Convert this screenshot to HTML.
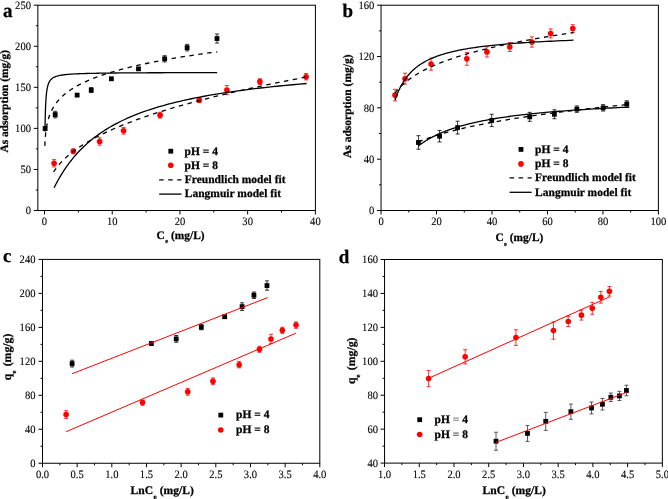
<!DOCTYPE html><html><head><meta charset="utf-8"><style>html,body{margin:0;padding:0;background:#fff;overflow:hidden}svg{display:block;will-change:transform}</style></head><body><svg width="668" height="499" viewBox="0 0 668 499" font-family='"Liberation Serif", serif'>
<rect width="668" height="499" fill="#fff"/>
<rect x="37.85" y="5.20" width="277.55" height="205.30" fill="none" stroke="#000" stroke-width="1"/>
<line x1="44.50" y1="210.50" x2="44.50" y2="214.50" stroke="#000" stroke-width="1"/>
<text transform="translate(44.50,225.30) scale(1,1.07) skewX(0.2)" font-size="10.6" stroke="currentColor" stroke-width="0.1" text-anchor="middle">0</text>
<line x1="112.22" y1="210.50" x2="112.22" y2="214.50" stroke="#000" stroke-width="1"/>
<text transform="translate(112.22,225.30) scale(1,1.07) skewX(0.2)" font-size="10.6" stroke="currentColor" stroke-width="0.1" text-anchor="middle">10</text>
<line x1="179.95" y1="210.50" x2="179.95" y2="214.50" stroke="#000" stroke-width="1"/>
<text transform="translate(179.95,225.30) scale(1,1.07) skewX(0.2)" font-size="10.6" stroke="currentColor" stroke-width="0.1" text-anchor="middle">20</text>
<line x1="247.67" y1="210.50" x2="247.67" y2="214.50" stroke="#000" stroke-width="1"/>
<text transform="translate(247.67,225.30) scale(1,1.07) skewX(0.2)" font-size="10.6" stroke="currentColor" stroke-width="0.1" text-anchor="middle">30</text>
<line x1="315.40" y1="210.50" x2="315.40" y2="214.50" stroke="#000" stroke-width="1"/>
<text transform="translate(315.40,225.30) scale(1,1.07) skewX(0.2)" font-size="10.6" stroke="currentColor" stroke-width="0.1" text-anchor="middle">40</text>
<line x1="78.36" y1="210.50" x2="78.36" y2="212.50" stroke="#000" stroke-width="1"/>
<line x1="146.09" y1="210.50" x2="146.09" y2="212.50" stroke="#000" stroke-width="1"/>
<line x1="213.81" y1="210.50" x2="213.81" y2="212.50" stroke="#000" stroke-width="1"/>
<line x1="281.54" y1="210.50" x2="281.54" y2="212.50" stroke="#000" stroke-width="1"/>
<line x1="33.85" y1="210.50" x2="37.85" y2="210.50" stroke="#000" stroke-width="1"/>
<text transform="translate(31.00,214.20) scale(1,1.07) skewX(0.2)" font-size="10.6" stroke="currentColor" stroke-width="0.1" text-anchor="end">0</text>
<line x1="33.85" y1="169.44" x2="37.85" y2="169.44" stroke="#000" stroke-width="1"/>
<text transform="translate(31.00,173.14) scale(1,1.07) skewX(0.2)" font-size="10.6" stroke="currentColor" stroke-width="0.1" text-anchor="end">50</text>
<line x1="33.85" y1="128.38" x2="37.85" y2="128.38" stroke="#000" stroke-width="1"/>
<text transform="translate(31.00,132.08) scale(1,1.07) skewX(0.2)" font-size="10.6" stroke="currentColor" stroke-width="0.1" text-anchor="end">100</text>
<line x1="33.85" y1="87.32" x2="37.85" y2="87.32" stroke="#000" stroke-width="1"/>
<text transform="translate(31.00,91.02) scale(1,1.07) skewX(0.2)" font-size="10.6" stroke="currentColor" stroke-width="0.1" text-anchor="end">150</text>
<line x1="33.85" y1="46.26" x2="37.85" y2="46.26" stroke="#000" stroke-width="1"/>
<text transform="translate(31.00,49.96) scale(1,1.07) skewX(0.2)" font-size="10.6" stroke="currentColor" stroke-width="0.1" text-anchor="end">200</text>
<line x1="33.85" y1="5.20" x2="37.85" y2="5.20" stroke="#000" stroke-width="1"/>
<text transform="translate(31.00,8.90) scale(1,1.07) skewX(0.2)" font-size="10.6" stroke="currentColor" stroke-width="0.1" text-anchor="end">250</text>
<line x1="35.85" y1="189.97" x2="37.85" y2="189.97" stroke="#000" stroke-width="1"/>
<line x1="35.85" y1="148.91" x2="37.85" y2="148.91" stroke="#000" stroke-width="1"/>
<line x1="35.85" y1="107.85" x2="37.85" y2="107.85" stroke="#000" stroke-width="1"/>
<line x1="35.85" y1="66.79" x2="37.85" y2="66.79" stroke="#000" stroke-width="1"/>
<line x1="35.85" y1="25.73" x2="37.85" y2="25.73" stroke="#000" stroke-width="1"/>
<rect x="381.05" y="5.20" width="277.35" height="205.30" fill="none" stroke="#000" stroke-width="1"/>
<line x1="381.05" y1="210.50" x2="381.05" y2="214.50" stroke="#000" stroke-width="1"/>
<text transform="translate(381.05,225.30) scale(1,1.07) skewX(0.2)" font-size="10.6" stroke="currentColor" stroke-width="0.1" text-anchor="middle">0</text>
<line x1="436.52" y1="210.50" x2="436.52" y2="214.50" stroke="#000" stroke-width="1"/>
<text transform="translate(436.52,225.30) scale(1,1.07) skewX(0.2)" font-size="10.6" stroke="currentColor" stroke-width="0.1" text-anchor="middle">20</text>
<line x1="491.99" y1="210.50" x2="491.99" y2="214.50" stroke="#000" stroke-width="1"/>
<text transform="translate(491.99,225.30) scale(1,1.07) skewX(0.2)" font-size="10.6" stroke="currentColor" stroke-width="0.1" text-anchor="middle">40</text>
<line x1="547.46" y1="210.50" x2="547.46" y2="214.50" stroke="#000" stroke-width="1"/>
<text transform="translate(547.46,225.30) scale(1,1.07) skewX(0.2)" font-size="10.6" stroke="currentColor" stroke-width="0.1" text-anchor="middle">60</text>
<line x1="602.93" y1="210.50" x2="602.93" y2="214.50" stroke="#000" stroke-width="1"/>
<text transform="translate(602.93,225.30) scale(1,1.07) skewX(0.2)" font-size="10.6" stroke="currentColor" stroke-width="0.1" text-anchor="middle">80</text>
<line x1="658.40" y1="210.50" x2="658.40" y2="214.50" stroke="#000" stroke-width="1"/>
<text transform="translate(658.40,225.30) scale(1,1.07) skewX(0.2)" font-size="10.6" stroke="currentColor" stroke-width="0.1" text-anchor="middle">100</text>
<line x1="408.79" y1="210.50" x2="408.79" y2="212.50" stroke="#000" stroke-width="1"/>
<line x1="464.25" y1="210.50" x2="464.25" y2="212.50" stroke="#000" stroke-width="1"/>
<line x1="519.73" y1="210.50" x2="519.73" y2="212.50" stroke="#000" stroke-width="1"/>
<line x1="575.19" y1="210.50" x2="575.19" y2="212.50" stroke="#000" stroke-width="1"/>
<line x1="630.66" y1="210.50" x2="630.66" y2="212.50" stroke="#000" stroke-width="1"/>
<line x1="377.05" y1="210.50" x2="381.05" y2="210.50" stroke="#000" stroke-width="1"/>
<text transform="translate(374.30,214.20) scale(1,1.07) skewX(0.2)" font-size="10.6" stroke="currentColor" stroke-width="0.1" text-anchor="end">0</text>
<line x1="377.05" y1="159.18" x2="381.05" y2="159.18" stroke="#000" stroke-width="1"/>
<text transform="translate(374.30,162.88) scale(1,1.07) skewX(0.2)" font-size="10.6" stroke="currentColor" stroke-width="0.1" text-anchor="end">40</text>
<line x1="377.05" y1="107.85" x2="381.05" y2="107.85" stroke="#000" stroke-width="1"/>
<text transform="translate(374.30,111.55) scale(1,1.07) skewX(0.2)" font-size="10.6" stroke="currentColor" stroke-width="0.1" text-anchor="end">80</text>
<line x1="377.05" y1="56.52" x2="381.05" y2="56.52" stroke="#000" stroke-width="1"/>
<text transform="translate(374.30,60.22) scale(1,1.07) skewX(0.2)" font-size="10.6" stroke="currentColor" stroke-width="0.1" text-anchor="end">120</text>
<line x1="377.05" y1="5.20" x2="381.05" y2="5.20" stroke="#000" stroke-width="1"/>
<text transform="translate(374.30,8.90) scale(1,1.07) skewX(0.2)" font-size="10.6" stroke="currentColor" stroke-width="0.1" text-anchor="end">160</text>
<line x1="379.05" y1="184.84" x2="381.05" y2="184.84" stroke="#000" stroke-width="1"/>
<line x1="379.05" y1="133.51" x2="381.05" y2="133.51" stroke="#000" stroke-width="1"/>
<line x1="379.05" y1="82.19" x2="381.05" y2="82.19" stroke="#000" stroke-width="1"/>
<line x1="379.05" y1="30.86" x2="381.05" y2="30.86" stroke="#000" stroke-width="1"/>
<rect x="42.50" y="259.40" width="277.30" height="203.85" fill="none" stroke="#000" stroke-width="1"/>
<line x1="42.50" y1="463.25" x2="42.50" y2="467.25" stroke="#000" stroke-width="1"/>
<text transform="translate(42.50,478.00) scale(1,1.07) skewX(0.2)" font-size="10.6" stroke="currentColor" stroke-width="0.1" text-anchor="middle">0.0</text>
<line x1="77.16" y1="463.25" x2="77.16" y2="467.25" stroke="#000" stroke-width="1"/>
<text transform="translate(77.16,478.00) scale(1,1.07) skewX(0.2)" font-size="10.6" stroke="currentColor" stroke-width="0.1" text-anchor="middle">0.5</text>
<line x1="111.83" y1="463.25" x2="111.83" y2="467.25" stroke="#000" stroke-width="1"/>
<text transform="translate(111.83,478.00) scale(1,1.07) skewX(0.2)" font-size="10.6" stroke="currentColor" stroke-width="0.1" text-anchor="middle">1.0</text>
<line x1="146.49" y1="463.25" x2="146.49" y2="467.25" stroke="#000" stroke-width="1"/>
<text transform="translate(146.49,478.00) scale(1,1.07) skewX(0.2)" font-size="10.6" stroke="currentColor" stroke-width="0.1" text-anchor="middle">1.5</text>
<line x1="181.15" y1="463.25" x2="181.15" y2="467.25" stroke="#000" stroke-width="1"/>
<text transform="translate(181.15,478.00) scale(1,1.07) skewX(0.2)" font-size="10.6" stroke="currentColor" stroke-width="0.1" text-anchor="middle">2.0</text>
<line x1="215.81" y1="463.25" x2="215.81" y2="467.25" stroke="#000" stroke-width="1"/>
<text transform="translate(215.81,478.00) scale(1,1.07) skewX(0.2)" font-size="10.6" stroke="currentColor" stroke-width="0.1" text-anchor="middle">2.5</text>
<line x1="250.48" y1="463.25" x2="250.48" y2="467.25" stroke="#000" stroke-width="1"/>
<text transform="translate(250.48,478.00) scale(1,1.07) skewX(0.2)" font-size="10.6" stroke="currentColor" stroke-width="0.1" text-anchor="middle">3.0</text>
<line x1="285.14" y1="463.25" x2="285.14" y2="467.25" stroke="#000" stroke-width="1"/>
<text transform="translate(285.14,478.00) scale(1,1.07) skewX(0.2)" font-size="10.6" stroke="currentColor" stroke-width="0.1" text-anchor="middle">3.5</text>
<line x1="319.80" y1="463.25" x2="319.80" y2="467.25" stroke="#000" stroke-width="1"/>
<text transform="translate(319.80,478.00) scale(1,1.07) skewX(0.2)" font-size="10.6" stroke="currentColor" stroke-width="0.1" text-anchor="middle">4.0</text>
<line x1="59.83" y1="463.25" x2="59.83" y2="465.25" stroke="#000" stroke-width="1"/>
<line x1="94.49" y1="463.25" x2="94.49" y2="465.25" stroke="#000" stroke-width="1"/>
<line x1="129.16" y1="463.25" x2="129.16" y2="465.25" stroke="#000" stroke-width="1"/>
<line x1="163.82" y1="463.25" x2="163.82" y2="465.25" stroke="#000" stroke-width="1"/>
<line x1="198.48" y1="463.25" x2="198.48" y2="465.25" stroke="#000" stroke-width="1"/>
<line x1="233.14" y1="463.25" x2="233.14" y2="465.25" stroke="#000" stroke-width="1"/>
<line x1="267.81" y1="463.25" x2="267.81" y2="465.25" stroke="#000" stroke-width="1"/>
<line x1="302.47" y1="463.25" x2="302.47" y2="465.25" stroke="#000" stroke-width="1"/>
<line x1="38.50" y1="463.25" x2="42.50" y2="463.25" stroke="#000" stroke-width="1"/>
<text transform="translate(35.50,466.95) scale(1,1.07) skewX(0.2)" font-size="10.6" stroke="currentColor" stroke-width="0.1" text-anchor="end">0</text>
<line x1="38.50" y1="429.27" x2="42.50" y2="429.27" stroke="#000" stroke-width="1"/>
<text transform="translate(35.50,432.97) scale(1,1.07) skewX(0.2)" font-size="10.6" stroke="currentColor" stroke-width="0.1" text-anchor="end">40</text>
<line x1="38.50" y1="395.30" x2="42.50" y2="395.30" stroke="#000" stroke-width="1"/>
<text transform="translate(35.50,399.00) scale(1,1.07) skewX(0.2)" font-size="10.6" stroke="currentColor" stroke-width="0.1" text-anchor="end">80</text>
<line x1="38.50" y1="361.32" x2="42.50" y2="361.32" stroke="#000" stroke-width="1"/>
<text transform="translate(35.50,365.02) scale(1,1.07) skewX(0.2)" font-size="10.6" stroke="currentColor" stroke-width="0.1" text-anchor="end">120</text>
<line x1="38.50" y1="327.35" x2="42.50" y2="327.35" stroke="#000" stroke-width="1"/>
<text transform="translate(35.50,331.05) scale(1,1.07) skewX(0.2)" font-size="10.6" stroke="currentColor" stroke-width="0.1" text-anchor="end">160</text>
<line x1="38.50" y1="293.38" x2="42.50" y2="293.38" stroke="#000" stroke-width="1"/>
<text transform="translate(35.50,297.07) scale(1,1.07) skewX(0.2)" font-size="10.6" stroke="currentColor" stroke-width="0.1" text-anchor="end">200</text>
<line x1="38.50" y1="259.40" x2="42.50" y2="259.40" stroke="#000" stroke-width="1"/>
<text transform="translate(35.50,263.10) scale(1,1.07) skewX(0.2)" font-size="10.6" stroke="currentColor" stroke-width="0.1" text-anchor="end">240</text>
<line x1="40.50" y1="446.26" x2="42.50" y2="446.26" stroke="#000" stroke-width="1"/>
<line x1="40.50" y1="412.29" x2="42.50" y2="412.29" stroke="#000" stroke-width="1"/>
<line x1="40.50" y1="378.31" x2="42.50" y2="378.31" stroke="#000" stroke-width="1"/>
<line x1="40.50" y1="344.34" x2="42.50" y2="344.34" stroke="#000" stroke-width="1"/>
<line x1="40.50" y1="310.36" x2="42.50" y2="310.36" stroke="#000" stroke-width="1"/>
<line x1="40.50" y1="276.39" x2="42.50" y2="276.39" stroke="#000" stroke-width="1"/>
<rect x="384.55" y="259.50" width="277.80" height="203.60" fill="none" stroke="#000" stroke-width="1"/>
<line x1="384.55" y1="463.10" x2="384.55" y2="467.10" stroke="#000" stroke-width="1"/>
<text transform="translate(384.55,478.00) scale(1,1.07) skewX(0.2)" font-size="10.6" stroke="currentColor" stroke-width="0.1" text-anchor="middle">1.0</text>
<line x1="419.28" y1="463.10" x2="419.28" y2="467.10" stroke="#000" stroke-width="1"/>
<text transform="translate(419.28,478.00) scale(1,1.07) skewX(0.2)" font-size="10.6" stroke="currentColor" stroke-width="0.1" text-anchor="middle">1.5</text>
<line x1="454.00" y1="463.10" x2="454.00" y2="467.10" stroke="#000" stroke-width="1"/>
<text transform="translate(454.00,478.00) scale(1,1.07) skewX(0.2)" font-size="10.6" stroke="currentColor" stroke-width="0.1" text-anchor="middle">2.0</text>
<line x1="488.73" y1="463.10" x2="488.73" y2="467.10" stroke="#000" stroke-width="1"/>
<text transform="translate(488.73,478.00) scale(1,1.07) skewX(0.2)" font-size="10.6" stroke="currentColor" stroke-width="0.1" text-anchor="middle">2.5</text>
<line x1="523.45" y1="463.10" x2="523.45" y2="467.10" stroke="#000" stroke-width="1"/>
<text transform="translate(523.45,478.00) scale(1,1.07) skewX(0.2)" font-size="10.6" stroke="currentColor" stroke-width="0.1" text-anchor="middle">3.0</text>
<line x1="558.17" y1="463.10" x2="558.17" y2="467.10" stroke="#000" stroke-width="1"/>
<text transform="translate(558.17,478.00) scale(1,1.07) skewX(0.2)" font-size="10.6" stroke="currentColor" stroke-width="0.1" text-anchor="middle">3.5</text>
<line x1="592.90" y1="463.10" x2="592.90" y2="467.10" stroke="#000" stroke-width="1"/>
<text transform="translate(592.90,478.00) scale(1,1.07) skewX(0.2)" font-size="10.6" stroke="currentColor" stroke-width="0.1" text-anchor="middle">4.0</text>
<line x1="627.62" y1="463.10" x2="627.62" y2="467.10" stroke="#000" stroke-width="1"/>
<text transform="translate(627.62,478.00) scale(1,1.07) skewX(0.2)" font-size="10.6" stroke="currentColor" stroke-width="0.1" text-anchor="middle">4.5</text>
<line x1="662.35" y1="463.10" x2="662.35" y2="467.10" stroke="#000" stroke-width="1"/>
<text transform="translate(662.35,478.00) scale(1,1.07) skewX(0.2)" font-size="10.6" stroke="currentColor" stroke-width="0.1" text-anchor="middle">5.0</text>
<line x1="401.91" y1="463.10" x2="401.91" y2="465.10" stroke="#000" stroke-width="1"/>
<line x1="436.64" y1="463.10" x2="436.64" y2="465.10" stroke="#000" stroke-width="1"/>
<line x1="471.36" y1="463.10" x2="471.36" y2="465.10" stroke="#000" stroke-width="1"/>
<line x1="506.09" y1="463.10" x2="506.09" y2="465.10" stroke="#000" stroke-width="1"/>
<line x1="540.81" y1="463.10" x2="540.81" y2="465.10" stroke="#000" stroke-width="1"/>
<line x1="575.54" y1="463.10" x2="575.54" y2="465.10" stroke="#000" stroke-width="1"/>
<line x1="610.26" y1="463.10" x2="610.26" y2="465.10" stroke="#000" stroke-width="1"/>
<line x1="644.99" y1="463.10" x2="644.99" y2="465.10" stroke="#000" stroke-width="1"/>
<line x1="380.55" y1="463.10" x2="384.55" y2="463.10" stroke="#000" stroke-width="1"/>
<text transform="translate(378.00,466.80) scale(1,1.07) skewX(0.2)" font-size="10.6" stroke="currentColor" stroke-width="0.1" text-anchor="end">40</text>
<line x1="380.55" y1="429.17" x2="384.55" y2="429.17" stroke="#000" stroke-width="1"/>
<text transform="translate(378.00,432.87) scale(1,1.07) skewX(0.2)" font-size="10.6" stroke="currentColor" stroke-width="0.1" text-anchor="end">60</text>
<line x1="380.55" y1="395.23" x2="384.55" y2="395.23" stroke="#000" stroke-width="1"/>
<text transform="translate(378.00,398.93) scale(1,1.07) skewX(0.2)" font-size="10.6" stroke="currentColor" stroke-width="0.1" text-anchor="end">80</text>
<line x1="380.55" y1="361.30" x2="384.55" y2="361.30" stroke="#000" stroke-width="1"/>
<text transform="translate(378.00,365.00) scale(1,1.07) skewX(0.2)" font-size="10.6" stroke="currentColor" stroke-width="0.1" text-anchor="end">100</text>
<line x1="380.55" y1="327.37" x2="384.55" y2="327.37" stroke="#000" stroke-width="1"/>
<text transform="translate(378.00,331.07) scale(1,1.07) skewX(0.2)" font-size="10.6" stroke="currentColor" stroke-width="0.1" text-anchor="end">120</text>
<line x1="380.55" y1="293.43" x2="384.55" y2="293.43" stroke="#000" stroke-width="1"/>
<text transform="translate(378.00,297.13) scale(1,1.07) skewX(0.2)" font-size="10.6" stroke="currentColor" stroke-width="0.1" text-anchor="end">140</text>
<line x1="380.55" y1="259.50" x2="384.55" y2="259.50" stroke="#000" stroke-width="1"/>
<text transform="translate(378.00,263.20) scale(1,1.07) skewX(0.2)" font-size="10.6" stroke="currentColor" stroke-width="0.1" text-anchor="end">160</text>
<line x1="382.55" y1="446.13" x2="384.55" y2="446.13" stroke="#000" stroke-width="1"/>
<line x1="382.55" y1="412.20" x2="384.55" y2="412.20" stroke="#000" stroke-width="1"/>
<line x1="382.55" y1="378.27" x2="384.55" y2="378.27" stroke="#000" stroke-width="1"/>
<line x1="382.55" y1="344.33" x2="384.55" y2="344.33" stroke="#000" stroke-width="1"/>
<line x1="382.55" y1="310.40" x2="384.55" y2="310.40" stroke="#000" stroke-width="1"/>
<line x1="382.55" y1="276.47" x2="384.55" y2="276.47" stroke="#000" stroke-width="1"/>
<rect x="42.71" y="126.14" width="4.8" height="4.8" fill="#000"/>
<path d="M55.20 111.30V117.87M53.20 111.30h4M53.20 117.87h4" stroke="#000" stroke-width="0.8" fill="none"/>
<rect x="52.80" y="112.18" width="4.8" height="4.8" fill="#000"/>
<rect x="74.74" y="92.72" width="4.8" height="4.8" fill="#000"/>
<path d="M91.23 87.65V92.58M89.23 87.65h4M89.23 92.58h4" stroke="#000" stroke-width="0.8" fill="none"/>
<rect x="88.83" y="87.71" width="4.8" height="4.8" fill="#000"/>
<rect x="109.01" y="76.38" width="4.8" height="4.8" fill="#000"/>
<rect x="136.10" y="66.44" width="4.8" height="4.8" fill="#000"/>
<path d="M164.64 55.70V61.94M162.64 55.70h4M162.64 61.94h4" stroke="#000" stroke-width="0.8" fill="none"/>
<rect x="162.24" y="56.42" width="4.8" height="4.8" fill="#000"/>
<path d="M187.13 44.37V50.94M185.13 44.37h4M185.13 50.94h4" stroke="#000" stroke-width="0.8" fill="none"/>
<rect x="184.73" y="45.26" width="4.8" height="4.8" fill="#000"/>
<path d="M217.00 34.02V43.06M215.00 34.02h4M215.00 43.06h4" stroke="#000" stroke-width="0.8" fill="none"/>
<rect x="214.60" y="36.14" width="4.8" height="4.8" fill="#000"/>
<path d="M54.12 159.59V166.98M52.12 159.59h4M52.12 166.98h4" stroke="#f00" stroke-width="0.8" fill="none"/>
<circle cx="54.12" cy="163.28" r="2.8" fill="#f00"/>
<path d="M73.35 148.83V153.76M71.35 148.83h4M71.35 153.76h4" stroke="#f00" stroke-width="0.8" fill="none"/>
<circle cx="73.35" cy="151.29" r="2.8" fill="#f00"/>
<path d="M99.63 137.74V145.13M97.63 137.74h4M97.63 145.13h4" stroke="#f00" stroke-width="0.8" fill="none"/>
<circle cx="99.63" cy="141.44" r="2.8" fill="#f00"/>
<path d="M123.60 127.56V134.13M121.60 127.56h4M121.60 134.13h4" stroke="#f00" stroke-width="0.8" fill="none"/>
<circle cx="123.60" cy="130.84" r="2.8" fill="#f00"/>
<path d="M160.11 112.28V118.03M158.11 112.28h4M158.11 118.03h4" stroke="#f00" stroke-width="0.8" fill="none"/>
<circle cx="160.11" cy="115.16" r="2.8" fill="#f00"/>
<path d="M199.25 97.67V102.59M197.25 97.67h4M197.25 102.59h4" stroke="#f00" stroke-width="0.8" fill="none"/>
<circle cx="199.25" cy="100.13" r="2.8" fill="#f00"/>
<path d="M226.88 85.51V94.55M224.88 85.51h4M224.88 94.55h4" stroke="#f00" stroke-width="0.8" fill="none"/>
<circle cx="226.88" cy="90.03" r="2.8" fill="#f00"/>
<path d="M259.87 78.78V84.53M257.87 78.78h4M257.87 84.53h4" stroke="#f00" stroke-width="0.8" fill="none"/>
<circle cx="259.87" cy="81.65" r="2.8" fill="#f00"/>
<path d="M306.12 73.52V79.93M304.12 73.52h4M304.12 79.93h4" stroke="#f00" stroke-width="0.8" fill="none"/>
<circle cx="306.12" cy="76.73" r="2.8" fill="#f00"/>
<polyline points="44.97,131.62 45.00,129.96 45.02,128.32 45.05,126.69 45.08,125.07 45.11,123.48 45.14,121.91 45.17,120.36 45.20,118.83 45.24,117.32 45.27,115.84 45.31,114.39 45.36,112.97 45.40,111.57 45.44,110.20 45.49,108.87 45.54,107.56 45.59,106.29 45.65,105.04 45.71,103.83 45.77,102.65 45.83,101.50 45.90,100.39 45.97,99.30 46.04,98.25 46.12,97.23 46.20,96.24 46.29,95.29 46.38,94.36 46.47,93.47 46.57,92.60 46.68,91.76 46.79,90.96 46.90,90.18 47.02,89.43 47.15,88.70 47.28,88.01 47.42,87.33 47.57,86.69 47.72,86.07 47.89,85.47 48.06,84.90 48.24,84.35 48.42,83.82 48.62,83.31 48.83,82.82 49.05,82.35 49.28,81.91 49.52,81.48 49.77,81.06 50.03,80.67 50.31,80.29 50.61,79.93 50.91,79.58 51.24,79.25 51.58,78.94 51.93,78.63 52.31,78.34 52.70,78.06 53.11,77.80 53.55,77.55 54.00,77.30 54.48,77.07 54.99,76.85 55.51,76.64 56.07,76.44 56.65,76.25 57.26,76.06 57.91,75.89 58.58,75.72 59.29,75.56 60.04,75.41 60.82,75.26 61.64,75.12 62.51,74.99 63.41,74.86 64.37,74.74 65.37,74.63 66.42,74.52 67.52,74.42 68.68,74.32 69.90,74.22 71.18,74.13 72.52,74.04 73.93,73.96 75.42,73.88 76.97,73.81 78.61,73.74 80.33,73.67 82.13,73.61 84.03,73.54 86.02,73.48 88.11,73.43 90.31,73.38 92.62,73.32 95.04,73.28 97.59,73.23 100.26,73.19 103.07,73.14 106.02,73.10 109.12,73.07 112.38,73.03 115.80,73.00 119.39,72.96 123.16,72.93 127.12,72.90 131.29,72.87 135.66,72.85 140.25,72.82 145.08,72.80 150.14,72.77 155.46,72.75 161.05,72.73 166.93,72.71 173.09,72.69 179.57,72.67 186.38,72.65 193.52,72.64 201.03,72.62 208.92,72.61 217.20,72.59" fill="none" stroke="#000" stroke-width="1.3"/>
<polyline points="44.85,145.85 44.87,145.37 44.89,144.88 44.91,144.38 44.93,143.89 44.96,143.39 44.98,142.88 45.01,142.37 45.03,141.86 45.06,141.35 45.09,140.83 45.12,140.30 45.15,139.78 45.19,139.25 45.23,138.71 45.26,138.17 45.30,137.63 45.35,137.08 45.39,136.53 45.44,135.97 45.49,135.41 45.54,134.85 45.60,134.28 45.65,133.71 45.72,133.13 45.78,132.55 45.85,131.96 45.92,131.37 45.99,130.78 46.07,130.18 46.16,129.58 46.25,128.97 46.34,128.36 46.43,127.74 46.54,127.12 46.65,126.49 46.76,125.86 46.88,125.23 47.00,124.58 47.14,123.94 47.28,123.29 47.42,122.63 47.58,121.97 47.74,121.31 47.91,120.64 48.10,119.96 48.29,119.28 48.49,118.60 48.70,117.91 48.92,117.21 49.15,116.51 49.40,115.81 49.66,115.09 49.93,114.38 50.22,113.66 50.52,112.93 50.84,112.19 51.18,111.46 51.53,110.71 51.91,109.96 52.30,109.21 52.71,108.45 53.15,107.68 53.61,106.91 54.09,106.13 54.60,105.34 55.13,104.55 55.69,103.76 56.29,102.96 56.91,102.15 57.57,101.34 58.26,100.52 58.99,99.69 59.76,98.86 60.57,98.02 61.42,97.17 62.31,96.32 63.26,95.46 64.25,94.60 65.30,93.73 66.40,92.85 67.56,91.97 68.78,91.08 70.07,90.18 71.42,89.28 72.85,88.37 74.35,87.45 75.93,86.52 77.60,85.59 79.35,84.65 81.20,83.71 83.14,82.76 85.19,81.80 87.35,80.83 89.62,79.86 92.01,78.87 94.52,77.89 97.17,76.89 99.97,75.89 102.90,74.87 106.00,73.85 109.26,72.83 112.69,71.79 116.30,70.75 120.11,69.70 124.11,68.64 128.33,67.58 132.77,66.51 137.45,65.42 142.37,64.33 147.56,63.24 153.02,62.13 158.77,61.01 164.82,59.89 171.20,58.76 177.91,57.62 184.98,56.47 192.42,55.31 200.26,54.15 208.51,52.97 217.20,51.79" fill="none" stroke="#000" stroke-width="1.3" stroke-dasharray="4.5 4.5"/>
<polyline points="54.12,187.71 54.39,187.17 54.66,186.62 54.95,186.06 55.24,185.49 55.54,184.91 55.85,184.31 56.16,183.71 56.49,183.10 56.82,182.47 57.17,181.83 57.52,181.19 57.88,180.53 58.26,179.86 58.64,179.17 59.04,178.48 59.44,177.78 59.86,177.06 60.29,176.34 60.73,175.60 61.18,174.85 61.65,174.09 62.13,173.32 62.62,172.54 63.13,171.74 63.65,170.94 64.18,170.13 64.73,169.30 65.30,168.46 65.88,167.62 66.47,166.76 67.09,165.89 67.72,165.02 68.37,164.13 69.03,163.23 69.72,162.32 70.42,161.41 71.15,160.48 71.89,159.55 72.65,158.61 73.44,157.66 74.25,156.70 75.08,155.73 75.93,154.75 76.81,153.77 77.71,152.78 78.64,151.78 79.59,150.78 80.58,149.77 81.58,148.76 82.62,147.74 83.68,146.71 84.78,145.68 85.90,144.64 87.06,143.61 88.25,142.56 89.47,141.52 90.72,140.47 92.01,139.41 93.34,138.36 94.71,137.30 96.11,136.25 97.55,135.19 99.03,134.13 100.55,133.07 102.12,132.01 103.73,130.95 105.38,129.90 107.08,128.84 108.83,127.79 110.63,126.73 112.47,125.69 114.37,124.64 116.32,123.60 118.33,122.56 120.39,121.52 122.51,120.49 124.69,119.47 126.93,118.44 129.23,117.43 131.59,116.42 134.03,115.42 136.53,114.42 139.10,113.43 141.74,112.45 144.45,111.47 147.24,110.50 150.11,109.55 153.06,108.59 156.09,107.65 159.21,106.72 162.41,105.79 165.71,104.88 169.09,103.97 172.57,103.07 176.15,102.18 179.82,101.31 183.60,100.44 187.49,99.58 191.48,98.74 195.59,97.90 199.80,97.07 204.14,96.26 208.60,95.45 213.18,94.66 217.89,93.88 222.74,93.11 227.71,92.35 232.83,91.60 238.09,90.86 243.49,90.14 249.05,89.42 254.76,88.72 260.64,88.02 266.67,87.34 272.88,86.67 279.25,86.01 285.81,85.36 292.55,84.73 299.48,84.10 306.60,83.49" fill="none" stroke="#000" stroke-width="1.3"/>
<polyline points="53.58,171.97 53.83,171.57 54.10,171.16 54.37,170.76 54.65,170.34 54.94,169.92 55.24,169.50 55.54,169.07 55.86,168.64 56.18,168.21 56.51,167.77 56.85,167.32 57.20,166.87 57.56,166.42 57.94,165.96 58.32,165.50 58.71,165.03 59.11,164.55 59.53,164.08 59.96,163.59 60.40,163.10 60.85,162.61 61.31,162.11 61.79,161.61 62.28,161.10 62.79,160.58 63.31,160.06 63.84,159.54 64.39,159.01 64.96,158.47 65.54,157.93 66.14,157.38 66.75,156.83 67.38,156.27 68.03,155.71 68.70,155.14 69.39,154.56 70.10,153.98 70.83,153.39 71.57,152.80 72.34,152.19 73.13,151.59 73.95,150.97 74.79,150.35 75.65,149.73 76.53,149.10 77.44,148.46 78.38,147.81 79.34,147.16 80.33,146.50 81.35,145.83 82.40,145.16 83.47,144.48 84.58,143.79 85.72,143.10 86.89,142.40 88.10,141.69 89.34,140.97 90.61,140.25 91.92,139.51 93.27,138.78 94.66,138.03 96.08,137.27 97.55,136.51 99.06,135.74 100.61,134.96 102.20,134.18 103.84,133.38 105.53,132.58 107.26,131.77 109.05,130.95 110.88,130.12 112.77,129.28 114.71,128.44 116.70,127.58 118.76,126.72 120.87,125.85 123.04,124.97 125.27,124.08 127.57,123.18 129.93,122.27 132.35,121.35 134.85,120.42 137.42,119.48 140.06,118.54 142.78,117.58 145.57,116.61 148.44,115.63 151.40,114.65 154.44,113.65 157.56,112.64 160.77,111.62 164.08,110.59 167.48,109.55 170.97,108.50 174.57,107.44 178.26,106.36 182.07,105.28 185.98,104.18 190.00,103.08 194.13,101.96 198.39,100.83 202.76,99.69 207.26,98.53 211.88,97.37 216.64,96.19 221.53,95.00 226.57,93.80 231.74,92.58 237.06,91.36 242.54,90.12 248.16,88.86 253.95,87.60 259.91,86.32 266.03,85.02 272.33,83.72 278.80,82.40 285.46,81.06 292.31,79.72 299.35,78.35 306.60,76.98" fill="none" stroke="#000" stroke-width="1.3" stroke-dasharray="4.5 4.5"/>
<path d="M418.44 135.69V149.29M416.44 135.69h4M416.44 149.29h4" stroke="#000" stroke-width="0.8" fill="none"/>
<rect x="416.04" y="140.09" width="4.8" height="4.8" fill="#000"/>
<path d="M439.57 130.43V141.98M437.57 130.43h4M437.57 141.98h4" stroke="#000" stroke-width="0.8" fill="none"/>
<rect x="437.17" y="133.81" width="4.8" height="4.8" fill="#000"/>
<path d="M457.60 121.19V134.03M455.60 121.19h4M455.60 134.03h4" stroke="#000" stroke-width="0.8" fill="none"/>
<rect x="455.20" y="125.21" width="4.8" height="4.8" fill="#000"/>
<path d="M491.71 114.27V126.58M489.71 114.27h4M489.71 126.58h4" stroke="#000" stroke-width="0.8" fill="none"/>
<rect x="489.31" y="118.02" width="4.8" height="4.8" fill="#000"/>
<path d="M529.71 112.34V121.32M527.71 112.34h4M527.71 121.32h4" stroke="#000" stroke-width="0.8" fill="none"/>
<rect x="527.31" y="114.43" width="4.8" height="4.8" fill="#000"/>
<path d="M554.39 109.77V118.76M552.39 109.77h4M552.39 118.76h4" stroke="#000" stroke-width="0.8" fill="none"/>
<rect x="551.99" y="111.87" width="4.8" height="4.8" fill="#000"/>
<path d="M576.86 105.93V112.34M574.86 105.93h4M574.86 112.34h4" stroke="#000" stroke-width="0.8" fill="none"/>
<rect x="574.46" y="106.73" width="4.8" height="4.8" fill="#000"/>
<path d="M603.12 104.64V111.06M601.12 104.64h4M601.12 111.06h4" stroke="#000" stroke-width="0.8" fill="none"/>
<rect x="600.72" y="105.45" width="4.8" height="4.8" fill="#000"/>
<path d="M626.78 100.79V107.21M624.78 100.79h4M624.78 107.21h4" stroke="#000" stroke-width="0.8" fill="none"/>
<rect x="624.38" y="101.60" width="4.8" height="4.8" fill="#000"/>
<path d="M395.06 89.37V100.92M393.06 89.37h4M393.06 100.92h4" stroke="#f00" stroke-width="0.8" fill="none"/>
<circle cx="395.06" cy="95.15" r="2.8" fill="#f00"/>
<path d="M405.04 73.21V84.24M403.04 73.21h4M403.04 84.24h4" stroke="#f00" stroke-width="0.8" fill="none"/>
<circle cx="405.04" cy="78.72" r="2.8" fill="#f00"/>
<path d="M431.06 58.06V70.13M429.06 58.06h4M429.06 70.13h4" stroke="#f00" stroke-width="0.8" fill="none"/>
<circle cx="431.06" cy="64.10" r="2.8" fill="#f00"/>
<path d="M466.83 52.42V65.25M464.83 52.42h4M464.83 65.25h4" stroke="#f00" stroke-width="0.8" fill="none"/>
<circle cx="466.83" cy="58.83" r="2.8" fill="#f00"/>
<path d="M486.94 46.77V57.04M484.94 46.77h4M484.94 57.04h4" stroke="#f00" stroke-width="0.8" fill="none"/>
<circle cx="486.94" cy="51.91" r="2.8" fill="#f00"/>
<path d="M509.82 42.54V51.52M507.82 42.54h4M507.82 51.52h4" stroke="#f00" stroke-width="0.8" fill="none"/>
<circle cx="509.82" cy="47.03" r="2.8" fill="#f00"/>
<path d="M531.93 36.89V47.16M529.93 36.89h4M529.93 47.16h4" stroke="#f00" stroke-width="0.8" fill="none"/>
<circle cx="531.93" cy="42.03" r="2.8" fill="#f00"/>
<path d="M550.70 28.94V37.92M548.70 28.94h4M548.70 37.92h4" stroke="#f00" stroke-width="0.8" fill="none"/>
<circle cx="550.70" cy="33.43" r="2.8" fill="#f00"/>
<path d="M572.81 24.70V32.40M570.81 24.70h4M570.81 32.40h4" stroke="#f00" stroke-width="0.8" fill="none"/>
<circle cx="572.81" cy="28.55" r="2.8" fill="#f00"/>
<polyline points="418.44,145.86 419.03,145.41 419.64,144.96 420.25,144.51 420.87,144.06 421.51,143.62 422.15,143.17 422.80,142.73 423.47,142.29 424.14,141.85 424.83,141.41 425.52,140.97 426.23,140.53 426.95,140.10 427.68,139.66 428.42,139.23 429.17,138.80 429.94,138.37 430.71,137.94 431.50,137.52 432.31,137.09 433.12,136.67 433.95,136.25 434.79,135.83 435.64,135.42 436.51,135.00 437.39,134.59 438.29,134.18 439.20,133.77 440.12,133.36 441.06,132.96 442.02,132.56 442.99,132.16 443.97,131.76 444.97,131.36 445.99,130.97 447.02,130.58 448.07,130.19 449.14,129.80 450.22,129.42 451.32,129.04 452.44,128.66 453.57,128.28 454.72,127.91 455.90,127.54 457.09,127.17 458.29,126.80 459.52,126.44 460.77,126.08 462.04,125.72 463.33,125.36 464.63,125.01 465.96,124.66 467.31,124.31 468.69,123.96 470.08,123.62 471.49,123.28 472.93,122.94 474.39,122.61 475.88,122.28 477.39,121.95 478.92,121.62 480.47,121.30 482.05,120.98 483.66,120.66 485.29,120.35 486.95,120.03 488.63,119.72 490.34,119.42 492.08,119.11 493.85,118.81 495.64,118.51 497.46,118.22 499.31,117.92 501.19,117.63 503.10,117.35 505.04,117.06 507.02,116.78 509.02,116.50 511.05,116.22 513.12,115.95 515.22,115.68 517.35,115.41 519.52,115.14 521.72,114.88 523.96,114.62 526.23,114.36 528.54,114.11 530.89,113.86 533.27,113.61 535.69,113.36 538.15,113.11 540.65,112.87 543.18,112.63 545.76,112.40 548.38,112.16 551.04,111.93 553.74,111.70 556.49,111.48 559.28,111.25 562.11,111.03 564.99,110.81 567.92,110.60 570.89,110.38 573.91,110.17 576.97,109.96 580.09,109.76 583.25,109.55 586.47,109.35 589.73,109.15 593.05,108.95 596.42,108.76 599.85,108.57 603.33,108.38 606.86,108.19 610.45,108.00 614.10,107.82 617.80,107.64 621.57,107.46 625.39,107.28 629.28,107.11" fill="none" stroke="#000" stroke-width="1.3"/>
<polyline points="418.44,141.93 419.03,141.68 419.64,141.43 420.25,141.18 420.87,140.93 421.51,140.68 422.15,140.42 422.80,140.17 423.47,139.91 424.14,139.65 424.83,139.39 425.52,139.13 426.23,138.87 426.95,138.61 427.68,138.35 428.42,138.09 429.17,137.82 429.94,137.56 430.71,137.29 431.50,137.03 432.31,136.76 433.12,136.49 433.95,136.22 434.79,135.95 435.64,135.68 436.51,135.41 437.39,135.13 438.29,134.86 439.20,134.58 440.12,134.30 441.06,134.03 442.02,133.75 442.99,133.47 443.97,133.19 444.97,132.91 445.99,132.62 447.02,132.34 448.07,132.05 449.14,131.77 450.22,131.48 451.32,131.19 452.44,130.90 453.57,130.61 454.72,130.32 455.90,130.03 457.09,129.74 458.29,129.44 459.52,129.15 460.77,128.85 462.04,128.55 463.33,128.25 464.63,127.96 465.96,127.65 467.31,127.35 468.69,127.05 470.08,126.75 471.49,126.44 472.93,126.13 474.39,125.83 475.88,125.52 477.39,125.21 478.92,124.90 480.47,124.58 482.05,124.27 483.66,123.96 485.29,123.64 486.95,123.33 488.63,123.01 490.34,122.69 492.08,122.37 493.85,122.05 495.64,121.73 497.46,121.40 499.31,121.08 501.19,120.75 503.10,120.42 505.04,120.10 507.02,119.77 509.02,119.44 511.05,119.10 513.12,118.77 515.22,118.44 517.35,118.10 519.52,117.76 521.72,117.43 523.96,117.09 526.23,116.75 528.54,116.40 530.89,116.06 533.27,115.72 535.69,115.37 538.15,115.02 540.65,114.68 543.18,114.33 545.76,113.98 548.38,113.63 551.04,113.27 553.74,112.92 556.49,112.56 559.28,112.21 562.11,111.85 564.99,111.49 567.92,111.13 570.89,110.76 573.91,110.40 576.97,110.04 580.09,109.67 583.25,109.30 586.47,108.93 589.73,108.56 593.05,108.19 596.42,107.82 599.85,107.44 603.33,107.07 606.86,106.69 610.45,106.31 614.10,105.93 617.80,105.55 621.57,105.17 625.39,104.79 629.28,104.40" fill="none" stroke="#000" stroke-width="1.3" stroke-dasharray="4.5 4.5"/>
<polyline points="395.06,100.07 395.37,99.16 395.68,98.25 396.00,97.35 396.33,96.46 396.67,95.57 397.02,94.68 397.37,93.80 397.73,92.93 398.10,92.06 398.47,91.20 398.86,90.35 399.25,89.50 399.65,88.66 400.06,87.82 400.48,87.00 400.91,86.17 401.35,85.36 401.80,84.56 402.26,83.76 402.73,82.96 403.21,82.18 403.69,81.40 404.19,80.64 404.71,79.87 405.23,79.12 405.76,78.38 406.31,77.64 406.86,76.91 407.43,76.19 408.02,75.47 408.61,74.77 409.22,74.07 409.84,73.38 410.48,72.70 411.13,72.02 411.79,71.36 412.47,70.70 413.16,70.05 413.87,69.41 414.60,68.78 415.34,68.15 416.10,67.54 416.87,66.93 417.66,66.33 418.47,65.74 419.30,65.15 420.14,64.58 421.00,64.01 421.88,63.45 422.79,62.90 423.71,62.35 424.65,61.82 425.61,61.29 426.60,60.77 427.60,60.26 428.63,59.75 429.68,59.25 430.75,58.76 431.85,58.28 432.97,57.80 434.12,57.34 435.29,56.88 436.49,56.42 437.71,55.98 438.96,55.54 440.24,55.11 441.55,54.68 442.88,54.26 444.25,53.85 445.64,53.45 447.07,53.05 448.53,52.66 450.02,52.28 451.54,51.90 453.10,51.53 454.69,51.16 456.31,50.80 457.97,50.45 459.67,50.10 461.41,49.76 463.18,49.43 465.00,49.10 466.85,48.78 468.74,48.46 470.68,48.15 472.66,47.84 474.68,47.54 476.75,47.25 478.86,46.96 481.02,46.67 483.23,46.39 485.48,46.12 487.79,45.85 490.15,45.58 492.55,45.32 495.02,45.07 497.53,44.82 500.10,44.58 502.73,44.34 505.42,44.10 508.16,43.87 510.97,43.64 513.84,43.42 516.77,43.20 519.77,42.98 522.83,42.77 525.96,42.57 529.16,42.37 532.43,42.17 535.77,41.97 539.19,41.78 542.68,41.59 546.25,41.41 549.89,41.23 553.62,41.05 557.43,40.88 561.33,40.71 565.31,40.55 569.37,40.38 573.53,40.22" fill="none" stroke="#000" stroke-width="1.3"/>
<polyline points="395.06,93.08 395.37,92.67 395.68,92.26 396.00,91.85 396.33,91.44 396.67,91.03 397.02,90.62 397.37,90.20 397.73,89.78 398.10,89.36 398.47,88.94 398.86,88.52 399.25,88.10 399.65,87.67 400.06,87.25 400.48,86.82 400.91,86.39 401.35,85.96 401.80,85.53 402.26,85.10 402.73,84.66 403.21,84.23 403.69,83.79 404.19,83.35 404.71,82.91 405.23,82.46 405.76,82.02 406.31,81.57 406.86,81.13 407.43,80.68 408.02,80.23 408.61,79.78 409.22,79.32 409.84,78.87 410.48,78.41 411.13,77.95 411.79,77.49 412.47,77.03 413.16,76.57 413.87,76.11 414.60,75.64 415.34,75.17 416.10,74.70 416.87,74.23 417.66,73.76 418.47,73.28 419.30,72.81 420.14,72.33 421.00,71.85 421.88,71.37 422.79,70.89 423.71,70.40 424.65,69.92 425.61,69.43 426.60,68.94 427.60,68.45 428.63,67.96 429.68,67.46 430.75,66.97 431.85,66.47 432.97,65.97 434.12,65.47 435.29,64.97 436.49,64.46 437.71,63.96 438.96,63.45 440.24,62.94 441.55,62.43 442.88,61.91 444.25,61.40 445.64,60.88 447.07,60.36 448.53,59.84 450.02,59.32 451.54,58.79 453.10,58.27 454.69,57.74 456.31,57.21 457.97,56.68 459.67,56.14 461.41,55.61 463.18,55.07 465.00,54.53 466.85,53.99 468.74,53.45 470.68,52.90 472.66,52.36 474.68,51.81 476.75,51.26 478.86,50.71 481.02,50.15 483.23,49.60 485.48,49.04 487.79,48.48 490.15,47.92 492.55,47.35 495.02,46.79 497.53,46.22 500.10,45.65 502.73,45.08 505.42,44.50 508.16,43.93 510.97,43.35 513.84,42.77 516.77,42.19 519.77,41.61 522.83,41.02 525.96,40.43 529.16,39.84 532.43,39.25 535.77,38.66 539.19,38.06 542.68,37.46 546.25,36.86 549.89,36.26 553.62,35.66 557.43,35.05 561.33,34.44 565.31,33.83 569.37,33.22 573.53,32.60" fill="none" stroke="#000" stroke-width="1.3" stroke-dasharray="4.5 4.5"/>
<path d="M72.10 360.22V367.02M70.10 360.22h4M70.10 367.02h4" stroke="#000" stroke-width="0.8" fill="none"/>
<rect x="69.70" y="361.22" width="4.8" height="4.8" fill="#000"/>
<path d="M151.34 341.87V345.27M149.34 341.87h4M149.34 345.27h4" stroke="#000" stroke-width="0.8" fill="none"/>
<rect x="148.94" y="341.17" width="4.8" height="4.8" fill="#000"/>
<path d="M176.23 335.50V342.30M174.23 335.50h4M174.23 342.30h4" stroke="#000" stroke-width="0.8" fill="none"/>
<rect x="173.83" y="336.50" width="4.8" height="4.8" fill="#000"/>
<path d="M201.32 324.63V329.73M199.32 324.63h4M199.32 329.73h4" stroke="#000" stroke-width="0.8" fill="none"/>
<rect x="198.92" y="324.78" width="4.8" height="4.8" fill="#000"/>
<path d="M224.69 315.03V318.43M222.69 315.03h4M222.69 318.43h4" stroke="#000" stroke-width="0.8" fill="none"/>
<rect x="222.29" y="314.33" width="4.8" height="4.8" fill="#000"/>
<path d="M242.09 302.80V310.45M240.09 302.80h4M240.09 310.45h4" stroke="#000" stroke-width="0.8" fill="none"/>
<rect x="239.69" y="304.23" width="4.8" height="4.8" fill="#000"/>
<path d="M253.94 292.02V298.47M251.94 292.02h4M251.94 298.47h4" stroke="#000" stroke-width="0.8" fill="none"/>
<rect x="251.54" y="292.84" width="4.8" height="4.8" fill="#000"/>
<path d="M266.97 280.89V290.23M264.97 280.89h4M264.97 290.23h4" stroke="#000" stroke-width="0.8" fill="none"/>
<rect x="264.57" y="283.16" width="4.8" height="4.8" fill="#000"/>
<path d="M66.14 410.76V418.40M64.14 410.76h4M64.14 418.40h4" stroke="#f00" stroke-width="0.8" fill="none"/>
<circle cx="66.14" cy="414.58" r="2.8" fill="#f00"/>
<path d="M142.54 400.06V405.15M140.54 400.06h4M140.54 405.15h4" stroke="#f00" stroke-width="0.8" fill="none"/>
<circle cx="142.54" cy="402.60" r="2.8" fill="#f00"/>
<path d="M187.74 388.42V395.22M185.74 388.42h4M185.74 395.22h4" stroke="#f00" stroke-width="0.8" fill="none"/>
<circle cx="187.74" cy="391.82" r="2.8" fill="#f00"/>
<path d="M212.97 377.89V384.68M210.97 377.89h4M210.97 384.68h4" stroke="#f00" stroke-width="0.8" fill="none"/>
<circle cx="212.97" cy="381.29" r="2.8" fill="#f00"/>
<path d="M239.18 361.58V367.87M237.18 361.58h4M237.18 367.87h4" stroke="#f00" stroke-width="0.8" fill="none"/>
<circle cx="239.18" cy="364.72" r="2.8" fill="#f00"/>
<path d="M259.49 346.21V352.32M257.49 346.21h4M257.49 352.32h4" stroke="#f00" stroke-width="0.8" fill="none"/>
<circle cx="259.49" cy="349.26" r="2.8" fill="#f00"/>
<path d="M271.00 334.31V343.66M269.00 334.31h4M269.00 343.66h4" stroke="#f00" stroke-width="0.8" fill="none"/>
<circle cx="271.00" cy="338.99" r="2.8" fill="#f00"/>
<path d="M282.36 327.27V333.38M280.36 327.27h4M280.36 333.38h4" stroke="#f00" stroke-width="0.8" fill="none"/>
<circle cx="282.36" cy="330.32" r="2.8" fill="#f00"/>
<path d="M296.02 321.83V328.28M294.02 321.83h4M294.02 328.28h4" stroke="#f00" stroke-width="0.8" fill="none"/>
<circle cx="296.02" cy="325.06" r="2.8" fill="#f00"/>
<line x1="72.10" y1="373.73" x2="267.60" y2="297.62" stroke="#f00" stroke-width="1"/>
<line x1="66.14" y1="431.74" x2="296.02" y2="333.13" stroke="#f00" stroke-width="1"/>
<path d="M496.02 432.22V450.21M494.02 432.22h4M494.02 450.21h4" stroke="#333" stroke-width="0.8" fill="none"/>
<rect x="493.62" y="438.81" width="4.8" height="4.8" fill="#000"/>
<path d="M527.48 425.43V441.38M525.48 425.43h4M525.48 441.38h4" stroke="#333" stroke-width="0.8" fill="none"/>
<rect x="525.08" y="431.01" width="4.8" height="4.8" fill="#000"/>
<path d="M545.74 412.37V430.35M543.74 412.37h4M543.74 430.35h4" stroke="#333" stroke-width="0.8" fill="none"/>
<rect x="543.34" y="418.96" width="4.8" height="4.8" fill="#000"/>
<path d="M570.88 404.06V419.33M568.88 404.06h4M568.88 419.33h4" stroke="#333" stroke-width="0.8" fill="none"/>
<rect x="568.48" y="409.29" width="4.8" height="4.8" fill="#000"/>
<path d="M591.51 402.02V413.90M589.51 402.02h4M589.51 413.90h4" stroke="#333" stroke-width="0.8" fill="none"/>
<rect x="589.11" y="405.56" width="4.8" height="4.8" fill="#000"/>
<path d="M602.41 398.46V409.99M600.41 398.46h4M600.41 409.99h4" stroke="#333" stroke-width="0.8" fill="none"/>
<rect x="600.01" y="401.83" width="4.8" height="4.8" fill="#000"/>
<path d="M610.82 393.03V401.51M608.82 393.03h4M608.82 401.51h4" stroke="#333" stroke-width="0.8" fill="none"/>
<rect x="608.42" y="394.87" width="4.8" height="4.8" fill="#000"/>
<path d="M619.43 391.33V400.49M617.43 391.33h4M617.43 400.49h4" stroke="#333" stroke-width="0.8" fill="none"/>
<rect x="617.03" y="393.51" width="4.8" height="4.8" fill="#000"/>
<path d="M626.44 385.22V395.74M624.44 385.22h4M624.44 395.74h4" stroke="#333" stroke-width="0.8" fill="none"/>
<rect x="624.04" y="388.08" width="4.8" height="4.8" fill="#000"/>
<path d="M428.65 370.46V386.75M426.65 370.46h4M426.65 386.75h4" stroke="#f00" stroke-width="0.8" fill="none"/>
<circle cx="428.65" cy="378.61" r="2.8" fill="#f00"/>
<path d="M465.18 349.68V363.93M463.18 349.68h4M463.18 363.93h4" stroke="#f00" stroke-width="0.8" fill="none"/>
<circle cx="465.18" cy="356.80" r="2.8" fill="#f00"/>
<path d="M515.95 329.74V345.35M513.95 329.74h4M513.95 345.35h4" stroke="#f00" stroke-width="0.8" fill="none"/>
<circle cx="515.95" cy="337.55" r="2.8" fill="#f00"/>
<path d="M553.45 321.94V339.24M551.45 321.94h4M551.45 339.24h4" stroke="#f00" stroke-width="0.8" fill="none"/>
<circle cx="553.45" cy="330.59" r="2.8" fill="#f00"/>
<path d="M568.25 316.34V326.52M566.25 316.34h4M566.25 326.52h4" stroke="#f00" stroke-width="0.8" fill="none"/>
<circle cx="568.25" cy="321.43" r="2.8" fill="#f00"/>
<path d="M581.44 310.23V320.07M579.44 310.23h4M579.44 320.07h4" stroke="#f00" stroke-width="0.8" fill="none"/>
<circle cx="581.44" cy="315.15" r="2.8" fill="#f00"/>
<path d="M592.27 302.43V314.30M590.27 302.43h4M590.27 314.30h4" stroke="#f00" stroke-width="0.8" fill="none"/>
<circle cx="592.27" cy="308.36" r="2.8" fill="#f00"/>
<path d="M600.82 291.57V303.10M598.82 291.57h4M598.82 303.10h4" stroke="#f00" stroke-width="0.8" fill="none"/>
<circle cx="600.82" cy="297.34" r="2.8" fill="#f00"/>
<path d="M609.43 286.48V295.98M607.43 286.48h4M607.43 295.98h4" stroke="#f00" stroke-width="0.8" fill="none"/>
<circle cx="609.43" cy="291.23" r="2.8" fill="#f00"/>
<line x1="428.65" y1="378.27" x2="609.98" y2="296.66" stroke="#f00" stroke-width="1"/>
<line x1="496.02" y1="442.40" x2="626.72" y2="392.35" stroke="#f00" stroke-width="1"/>
<rect x="168.40" y="148.80" width="4.8" height="4.8" fill="#000"/>
<circle cx="170.80" cy="165.20" r="2.8" fill="#f00"/>
<text transform="translate(184.60,154.80) skewX(0.2)" font-size="11.5" font-weight="bold" stroke="currentColor" stroke-width="0.25">pH = 4</text>
<text transform="translate(184.60,168.90) skewX(0.2)" font-size="11.5" font-weight="bold" stroke="currentColor" stroke-width="0.25">pH = 8</text>
<line x1="159.2" y1="179.9" x2="181.5" y2="179.9" stroke="#000" stroke-width="1.3" stroke-dasharray="4.5 4.5"/>
<text transform="translate(184.80,183.10) skewX(0.2)" font-size="11.5" font-weight="bold" stroke="currentColor" stroke-width="0.25">Freundlich model fit</text>
<line x1="159.2" y1="194.1" x2="181.5" y2="194.1" stroke="#000" stroke-width="1.3"/>
<text transform="translate(184.80,197.40) skewX(0.2)" font-size="11.5" font-weight="bold" stroke="currentColor" stroke-width="0.25">Langmuir model fit</text>
<rect x="518.60" y="147.00" width="4.8" height="4.8" fill="#000"/>
<circle cx="521.00" cy="163.90" r="2.8" fill="#f00"/>
<text transform="translate(535.00,153.20) skewX(0.2)" font-size="11.5" font-weight="bold" stroke="currentColor" stroke-width="0.25">pH = 4</text>
<text transform="translate(535.00,167.30) skewX(0.2)" font-size="11.5" font-weight="bold" stroke="currentColor" stroke-width="0.25">pH = 8</text>
<line x1="509.6" y1="177.8" x2="531.7" y2="177.8" stroke="#000" stroke-width="1.3" stroke-dasharray="4.5 4.5"/>
<text transform="translate(535.10,181.30) skewX(0.2)" font-size="11.5" font-weight="bold" stroke="currentColor" stroke-width="0.25">Freundlich model fit</text>
<line x1="509.6" y1="192.3" x2="531.7" y2="192.3" stroke="#000" stroke-width="1.3"/>
<text transform="translate(535.10,195.60) skewX(0.2)" font-size="11.5" font-weight="bold" stroke="currentColor" stroke-width="0.25">Langmuir model fit</text>
<rect x="218.40" y="412.70" width="4.8" height="4.8" fill="#000"/>
<circle cx="220.80" cy="430.00" r="2.8" fill="#f00"/>
<text transform="translate(236.00,418.10) skewX(0.2)" font-size="11.5" font-weight="bold" stroke="currentColor" stroke-width="0.25">pH = 4</text>
<text transform="translate(236.00,432.50) skewX(0.2)" font-size="11.5" font-weight="bold" stroke="currentColor" stroke-width="0.25">pH = 8</text>
<rect x="417.30" y="417.30" width="4.8" height="4.8" fill="#000"/>
<circle cx="419.70" cy="434.50" r="2.8" fill="#f00"/>
<text transform="translate(434.60,422.90) skewX(0.2)" font-size="11.5" font-weight="bold" stroke="currentColor" stroke-width="0.25">pH <tspan fill="#8a8a8a" stroke="#8a8a8a">=</tspan> 4</text>
<text transform="translate(434.60,437.70) skewX(0.2)" font-size="11.5" font-weight="bold" stroke="currentColor" stroke-width="0.25">pH <tspan fill="#606060" stroke="#606060">=</tspan> 8</text>
<text transform="translate(156.60,238.50) skewX(0.2)" font-size="11.4" font-weight="bold" stroke="currentColor" stroke-width="0.25">C<tspan font-size="6.6" dy="4.3" dx="0.4">e</tspan><tspan dy="-4.3" dx="0"> (mg/L)</tspan></text>
<text transform="translate(495.40,241.20) skewX(0.2)" font-size="11.4" font-weight="bold" stroke="currentColor" stroke-width="0.25">C<tspan font-size="6.6" dy="4.3" dx="0.4">e</tspan><tspan dy="-4.3" dx="0"> (mg/L)</tspan></text>
<text transform="translate(130.60,494.20) skewX(0.2)" font-size="11.6" font-weight="bold" stroke="currentColor" stroke-width="0.25">LnC<tspan font-size="7.2" dy="5" dx="0.4">e</tspan><tspan dy="-5" dx="0"> (mg/L)</tspan></text>
<text transform="translate(482.60,494.20) skewX(0.2)" font-size="11.6" font-weight="bold" stroke="currentColor" stroke-width="0.25">LnC<tspan font-size="7.2" dy="5" dx="0.4">e</tspan><tspan dy="-5" dx="0"> (mg/L)</tspan></text>
<text transform="translate(8.20,152.60) rotate(-90) skewX(0.2)" font-size="11.4" font-weight="bold" stroke="currentColor" stroke-width="0.25">As adsorption (mg/g)</text>
<text transform="translate(351.00,158.00) rotate(-90) skewX(0.2)" font-size="11.5" font-weight="bold" stroke="currentColor" stroke-width="0.25">As adsorption (mg/g)</text>
<text transform="translate(10.80,380.20) rotate(-90) skewX(0.2)" font-size="11.8" font-weight="bold" stroke="currentColor" stroke-width="0.25">q<tspan font-size="6.6" dy="4.8">e</tspan><tspan dy="-4.8" dx="1.4"> (mg/g)</tspan></text>
<text transform="translate(355.00,384.00) rotate(-90) skewX(0.2)" font-size="11.8" font-weight="bold" stroke="currentColor" stroke-width="0.25">q<tspan font-size="6.6" dy="4.8">e</tspan><tspan dy="-4.8" dx="1.3"> (mg/g)</tspan></text>
<text transform="translate(3.00,16.80) scale(1,1.04) skewX(0.2)" font-size="19" font-weight="bold" stroke="currentColor" stroke-width="0.25">a</text>
<text transform="translate(342.50,16.60) skewX(0.2)" font-size="19" font-weight="bold" stroke="currentColor" stroke-width="0.25">b</text>
<text transform="translate(3.00,262.00) skewX(0.2)" font-size="19" font-weight="bold" stroke="currentColor" stroke-width="0.25">c</text>
<text transform="translate(338.80,262.60) skewX(0.2)" font-size="19" font-weight="bold" stroke="currentColor" stroke-width="0.25">d</text>
</svg></body></html>
